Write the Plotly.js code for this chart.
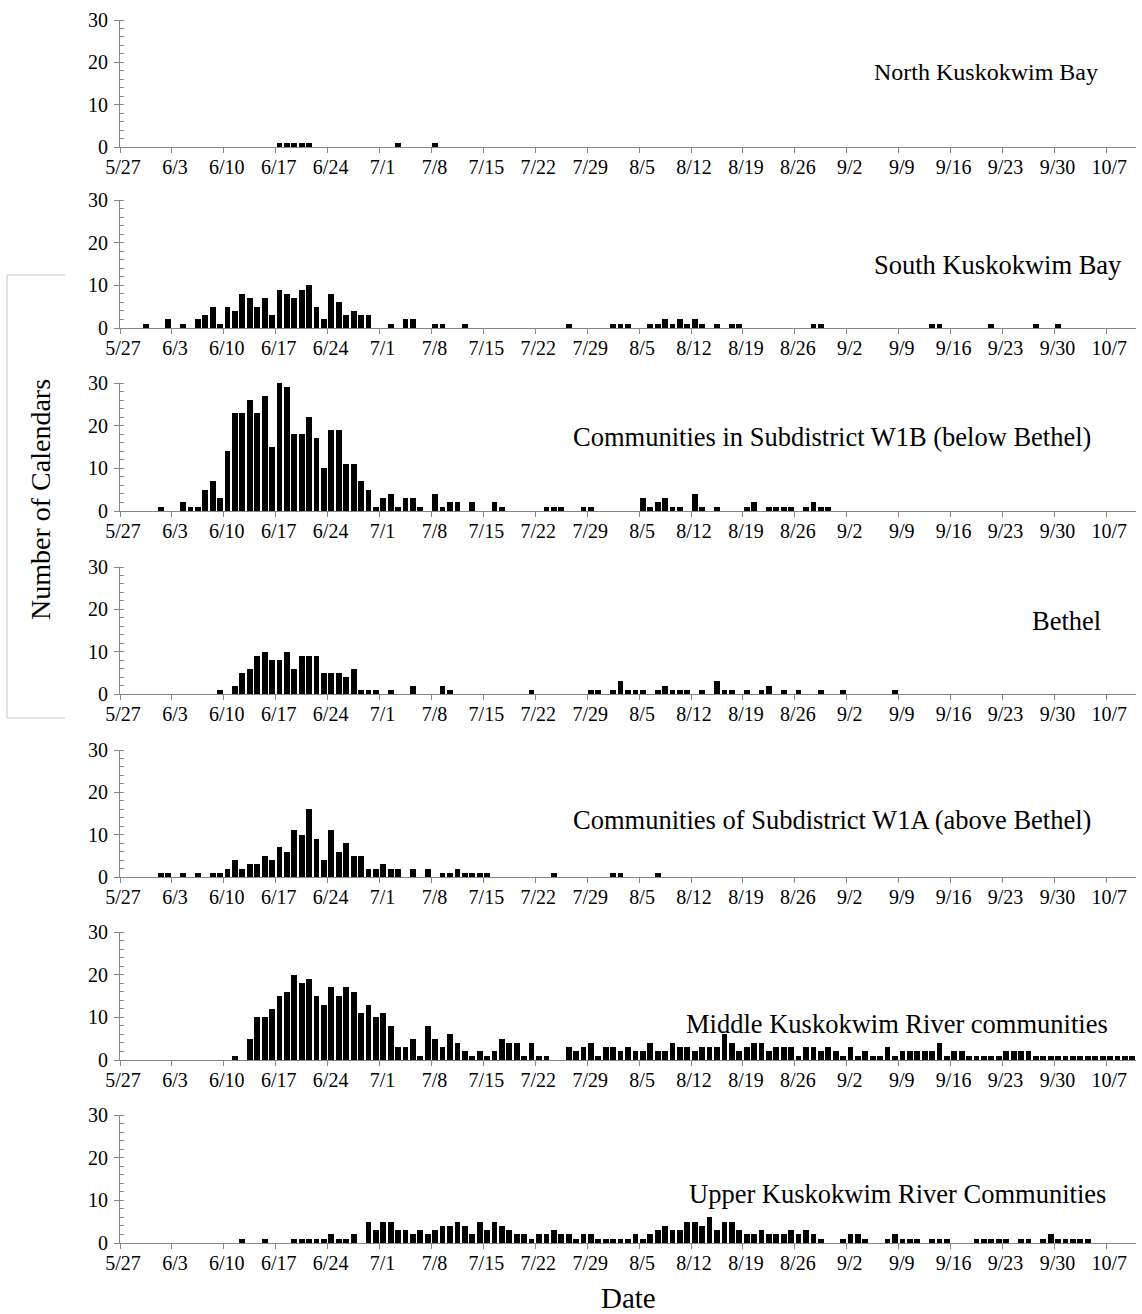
<!DOCTYPE html>
<html><head><meta charset="utf-8">
<script src="https://cdn.plot.ly/plotly-3.0.1.min.js"></script>
<style>html,body{margin:0;padding:0;background:#fff}</style>
</head><body><div id="chart" style="width:1142px;height:1314px"></div>
<script>
// Daily counts starting 5/27, one row per week (5/27, 6/3, 6/10, ...)
const startDate = '2013-05-27';
const tickLabels = ['5/27','6/3','6/10','6/17','6/24','7/1','7/8','7/15','7/22','7/29','8/5','8/12','8/19','8/26','9/2','9/9','9/16','9/23','9/30','10/7'];
const panelNames = ['North Kuskokwim Bay','South Kuskokwim Bay','Communities in Subdistrict W1B (below Bethel)','Bethel','Communities of Subdistrict W1A (above Bethel)','Middle Kuskokwim River communities','Upper Kuskokwim River Communities'];

const north = [
0,0,0,0,0,0,0, 0,0,0,0,0,0,0, 0,0,0,0,0,0,0, 1,1,1,1,1,0,0, 0,0,0,0,0,0,0,
0,0,1,0,0,0,0, 1,0,0,0,0,0,0, 0,0,0,0,0,0,0, 0,0,0,0,0,0,0, 0,0,0,0,0,0,0,
0,0,0,0,0,0,0, 0,0,0,0,0,0,0, 0,0,0,0,0,0,0, 0,0,0,0,0,0,0, 0,0,0,0,0,0,0,
0,0,0,0,0,0,0, 0,0,0,0,0,0,0, 0,0,0,0,0,0,0, 0,0,0,0,0,0,0, 0,0,0,0];
const south = [
0,0,0,1,0,0,2, 0,1,0,2,3,5,1, 5,4,8,7,5,7,3, 9,8,7,9,10,5,2, 8,6,3,4,3,3,0,
0,1,0,2,2,0,0, 1,1,0,0,1,0,0, 0,0,0,0,0,0,0, 0,0,0,0,1,0,0, 0,0,0,1,1,1,0,
0,1,1,2,1,2,1, 2,1,0,1,0,1,1, 0,0,0,0,0,0,0, 0,0,1,1,0,0,0, 0,0,0,0,0,0,0,
0,0,0,0,1,1,0, 0,0,0,0,0,1,0, 0,0,0,0,1,0,0, 1,0,0,0,0,0,0, 0,0,0,0];
const w1b = [
0,0,0,0,0,1,0, 0,2,1,1,5,7,3, 14,23,23,26,23,27,15, 30,29,18,18,22,17,10, 19,19,11,11,7,5,1,
3,4,1,3,3,1,0, 4,1,2,2,0,2,0, 0,2,1,0,0,0,0, 0,1,1,1,0,0,1, 1,0,0,0,0,0,0,
3,1,2,3,1,1,0, 4,1,0,1,0,0,0, 1,2,0,1,1,1,1, 0,1,2,1,1,0,0, 0,0,0,0,0,0,0,
0,0,0,0,0,0,0, 0,0,0,0,0,0,0, 0,0,0,0,0,0,0, 0,0,0,0,0,0,0, 0,0,0,0];
const bethel = [
0,0,0,0,0,0,0, 0,0,0,0,0,0,1, 0,2,5,6,9,10,8, 8,10,6,9,9,9,5, 5,5,4,6,1,1,1,
0,1,0,0,2,0,0, 0,2,1,0,0,0,0, 0,0,0,0,0,0,1, 0,0,0,0,0,0,0, 1,1,0,1,3,1,1,
1,0,1,2,1,1,1, 0,1,0,3,1,1,0, 1,0,1,2,0,1,0, 1,0,0,1,0,0,1, 0,0,0,0,0,0,1,
0,0,0,0,0,0,0, 0,0,0,0,0,0,0, 0,0,0,0,0,0,0, 0,0,0,0,0,0,0, 0,0,0,0];
const w1a = [
0,0,0,0,0,1,1, 0,1,0,1,0,1,1, 2,4,2,3,3,5,4, 7,6,11,10,16,9,4, 11,6,8,5,5,2,2,
3,2,2,0,2,0,2, 0,1,1,2,1,1,1, 1,0,0,0,0,0,0, 0,0,1,0,0,0,0, 0,0,0,1,1,0,0,
0,0,1,0,0,0,0, 0,0,0,0,0,0,0, 0,0,0,0,0,0,0, 0,0,0,0,0,0,0, 0,0,0,0,0,0,0,
0,0,0,0,0,0,0, 0,0,0,0,0,0,0, 0,0,0,0,0,0,0, 0,0,0,0,0,0,0, 0,0,0,0];
const middle = [
0,0,0,0,0,0,0, 0,0,0,0,0,0,0, 0,1,0,5,10,10,12, 15,16,20,18,19,15,13, 17,15,17,16,11,13,10,
11,8,3,3,5,1,8, 5,3,6,4,2,1,2, 1,2,5,4,4,1,4, 1,1,0,0,3,2,3, 4,1,3,3,2,3,2,
2,4,2,2,4,3,3, 2,3,3,3,6,4,2, 3,4,4,2,3,3,3, 1,3,3,2,3,2,1, 3,1,2,1,1,3,1,
2,2,2,2,2,4,1, 2,2,1,1,1,1,1, 2,2,2,2,1,1,1, 1,1,1,1,1,1,1, 1,1,1,1];
const upper = [
0,0,0,0,0,0,0, 0,0,0,0,0,0,0, 0,0,1,0,0,1,0, 0,0,1,1,1,1,1, 2,1,1,2,0,5,3,
5,5,3,3,2,3,2, 3,4,4,5,4,2,5, 3,5,4,3,2,2,1, 2,2,3,2,2,1,2, 2,1,1,1,1,1,2,
1,2,3,4,3,3,5, 5,4,6,3,5,5,3, 2,2,3,2,2,2,3, 2,3,2,1,0,0,1, 2,2,1,0,0,1,2,
1,1,1,0,1,1,1, 0,0,0,1,1,1,1, 1,0,1,1,0,1,2, 1,1,1,1,1,0,0, 0,0,0,0];

const series = [north, south, w1b, bethel, w1a, middle, upper];

// ---- layout geometry (pixels) ----
const W = 1142, H = 1314;
const DAY = 86400000;
const t0 = Date.parse(startDate + 'T00:00:00Z');
function iso(ms){ return new Date(ms).toISOString().slice(0,19).replace('T',' '); }
const panelTop = [20, 200, 383, 567, 750, 932, 1115];
const panelBot = [147, 328, 511, 694, 877, 1060, 1243];
const labelPos = [[986,72],[998,265],[832,437],[1066,621],[832,820],[897,1024],[897,1194]];
const labelSize = [24, 26.5, 26.5, 26.5, 26.5, 26.5, 26.5];
const axisGray = '#878787';
const font = 'Liberation Serif, Times New Roman, serif';

const data = [];
const layout = {
  width: W, height: H, margin: {l:0, r:0, t:0, b:0},
  paper_bgcolor: '#fff', plot_bgcolor: '#fff',
  showlegend: false, bargap: 0,
  font: {family: font, color: '#000', size: 20},
  annotations: [], shapes: []
};
const tickVals = tickLabels.map((_, k) => iso(t0 + k*7*DAY));

series.forEach((vals, p) => {
  const n = p === 0 ? '' : String(p+1);
  const xs = vals.map((_, i) => iso(t0 + i*DAY));
  data.push({
    type: 'bar', x: xs, y: vals, xaxis: 'x'+n, yaxis: 'y'+n,
    width: 0.78*DAY, offset: 0.11*DAY,
    marker: {color: '#000', line: {width: 0}}, hoverinfo: 'x+y'
  });
  layout['xaxis'+n] = {
    type: 'date', domain: [120/W, 1136/W], anchor: 'y'+n,
    range: [iso(t0), iso(t0 + 137*DAY)],
    tickmode: 'array', tickvals: tickVals, ticktext: tickLabels,
    ticks: 'outside', ticklen: 5, tickcolor: axisGray, tickwidth: 1,
    ticklabelshift: 3, ticklabelstandoff: -3,
    showline: true, linecolor: axisGray, linewidth: 1,
    showgrid: false, zeroline: false,
    tickfont: {family: font, size: 20, color: '#000'}
  };
  layout['yaxis'+n] = {
    domain: [1 - panelBot[p]/H, 1 - panelTop[p]/H], anchor: 'x'+n,
    range: [0, 30], tickmode: 'array', tickvals: [0,10,20,30],
    ticks: 'outside', ticklen: 5, tickcolor: axisGray, tickwidth: 1,
    ticklabelstandoff: 2,
    minor: {tickmode: 'linear', tick0: 0, dtick: 2, ticks: 'inside', ticklen: 4, tickcolor: axisGray, tickwidth: 1},
    showline: true, linecolor: axisGray, linewidth: 1,
    showgrid: false, zeroline: false,
    tickfont: {family: font, size: 20, color: '#000'}
  };
  layout.annotations.push({
    text: panelNames[p], xref: 'paper', yref: 'paper',
    x: labelPos[p][0]/W, y: 1 - labelPos[p][1]/H,
    xanchor: 'center', yanchor: 'middle', showarrow: false,
    font: {family: font, size: labelSize[p], color: '#000'}
  });
});

layout.annotations.push({
  text: 'Date', xref: 'paper', yref: 'paper', x: 628/W, y: 1 - 1298/H,
  xanchor: 'center', yanchor: 'middle', showarrow: false,
  font: {family: font, size: 29, color: '#000'}
});
layout.annotations.push({
  text: 'Number of Calendars', xref: 'paper', yref: 'paper', x: 40/W, y: 1 - 500/H,
  xanchor: 'center', yanchor: 'middle', showarrow: false, textangle: -90,
  font: {family: font, size: 28, color: '#000'}
});
layout.shapes.push({
  type: 'path', xref: 'paper', yref: 'paper',
  path: `M ${65/W} ${1-275/H} L ${7/W} ${1-275/H} L ${7/W} ${1-718/H} L ${65/W} ${1-718/H}`,
  line: {color: '#c8c8c8', width: 1}
});

Plotly.newPlot('chart', data, layout, {staticPlot: true});
</script>
</body></html>
